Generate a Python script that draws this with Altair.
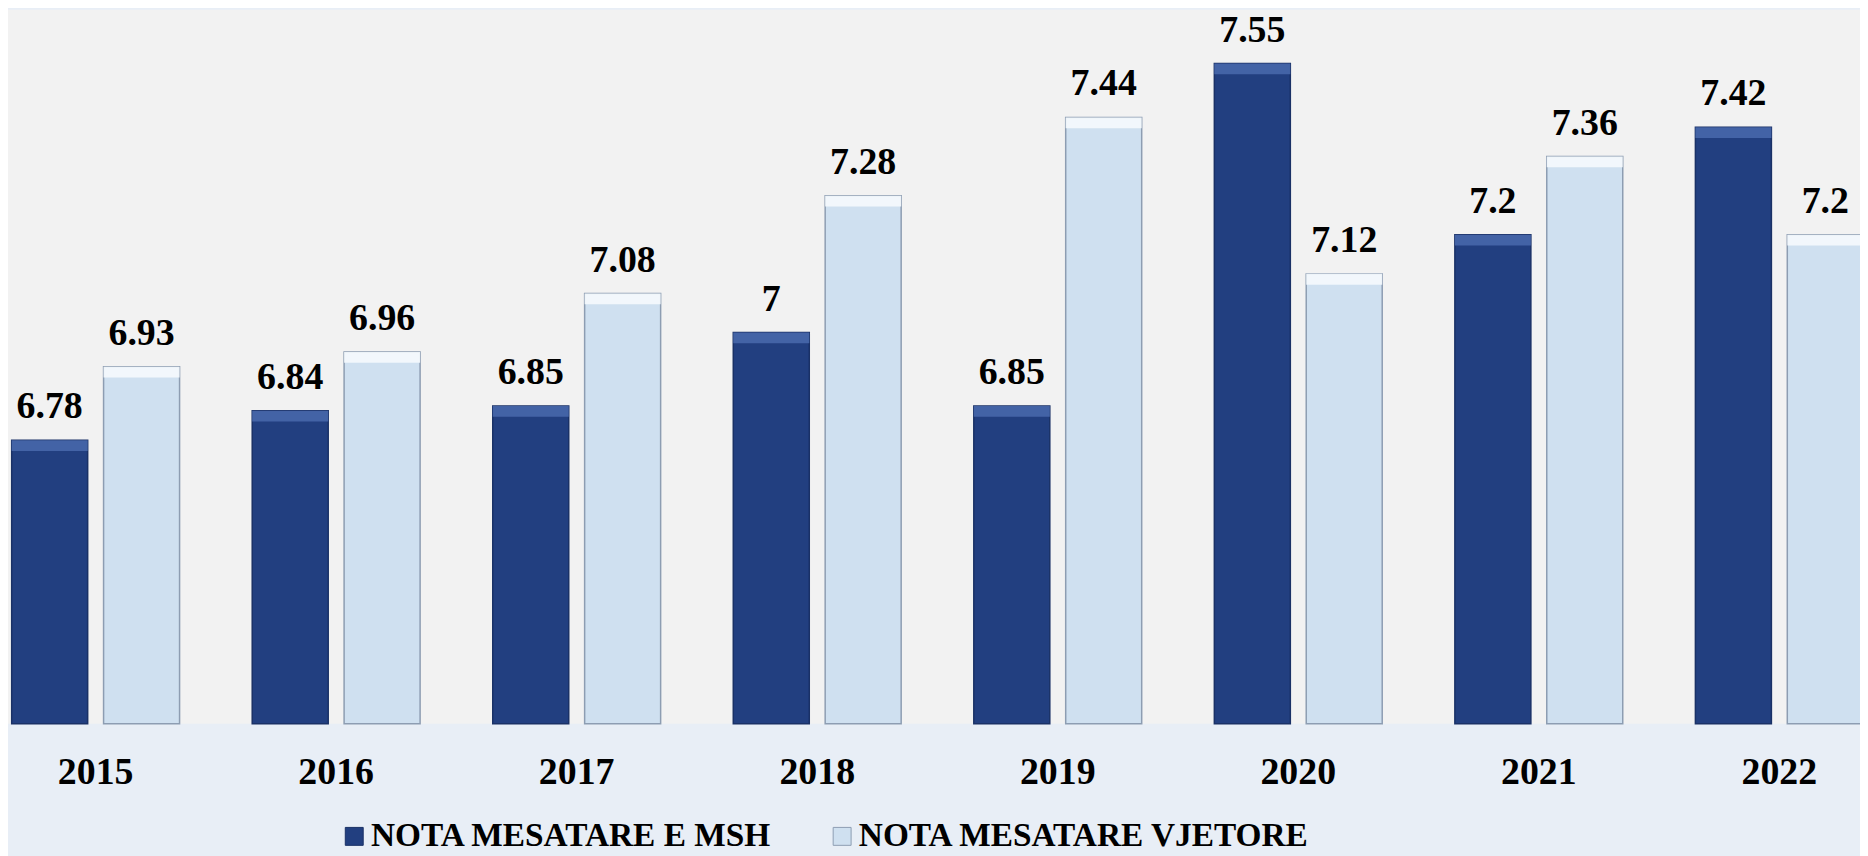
import altair as alt
import pandas as pd

years = ["2015", "2016", "2017", "2018", "2019", "2020", "2021", "2022"]
series_names = ["NOTA MESATARE E MSH", "NOTA MESATARE VJETORE"]
msh = [6.78, 6.84, 6.85, 7.00, 6.85, 7.55, 7.20, 7.42]
vjetore = [6.93, 6.96, 7.08, 7.28, 7.44, 7.12, 7.36, 7.20]

rows = []
for i, y in enumerate(years):
    rows.append({"year": y, "series": series_names[0], "value": msh[i]})
    rows.append({"year": y, "series": series_names[1], "value": vjetore[i]})
df = pd.DataFrame(rows)

FONT = "Liberation Serif"
DARK = "#223f80"
LIGHT = "#cfe0f0"

x_enc = alt.X(
    "year:N",
    sort=years,
    scale=alt.Scale(range=[3.7, 1863.3], paddingInner=0.302, paddingOuter=0),
    axis=alt.Axis(
        title=None, domain=False, ticks=False, tickSize=0, labelAngle=0,
        labelFont=FONT, labelFontSize=38, labelFontWeight="bold", labelColor="#000000",
        labelBaseline="alphabetic", labelPadding=60,
    ),
)
xo_enc = alt.XOffset("series:N", sort=series_names,
                     scale=alt.Scale(paddingInner=0.173, paddingOuter=0))
y_scale = alt.Scale(domain=[6.2, 7.66], zero=False, nice=False)

base = alt.Chart(df)

bars = base.mark_bar(strokeWidth=1.5).encode(
    x=x_enc,
    xOffset=xo_enc,
    y=alt.Y("value:Q", scale=y_scale, axis=None),
    y2=alt.datum(6.2),
    color=alt.Color(
        "series:N",
        sort=series_names,
        scale=alt.Scale(domain=series_names, range=[DARK, LIGHT]),
        legend=alt.Legend(
            title=None, orient="none", direction="horizontal",
            legendX=331, legendY=813,
            symbolType="square", symbolSize=324, symbolStrokeWidth=1,
            symbolStrokeColor="#6f7f95",
            labelFont=FONT, labelFontSize=33.5, labelFontWeight="bold", labelColor="#000000",
            labelOffset=0, columnPadding=53, padding=0, labelLimit=1000,
        ),
    ),
    stroke=alt.Stroke(
        "series:N",
        scale=alt.Scale(domain=series_names, range=["#1a3166", "#8d9db2"]),
        legend=None,
    ),
)

bevel = base.transform_calculate(
    top2="datum.value - 0.022"
).mark_bar(strokeWidth=0, opacity=0.9).encode(
    x=x_enc,
    xOffset=xo_enc,
    y=alt.Y("value:Q", scale=y_scale, axis=None),
    y2="top2:Q",
    color=alt.condition(
        alt.datum.series == series_names[0], alt.value("#4767aa"), alt.value("#f5f9fd")
    ),
)

labels = base.mark_text(
    font=FONT, fontSize=38, fontWeight="bold", color="#000000",
    baseline="alphabetic", dy=-22,
).encode(
    x=x_enc,
    xOffset=xo_enc,
    y=alt.Y("value:Q", scale=y_scale, axis=None),
    text=alt.Text("value:Q", format=".2~f"),
)

chart = alt.layer(bars, bevel, labels).properties(
    width=1860,
    height=717,
    autosize=alt.AutoSizeParams(type="none"),
    padding={"left": 0, "top": 0, "right": 0, "bottom": 131},
    background="#e8eef6",
).configure_view(
    stroke=None, fill="#f2f2f2"
)

chart.save("out.html", embed_options={"renderer": "svg", "actions": False})
